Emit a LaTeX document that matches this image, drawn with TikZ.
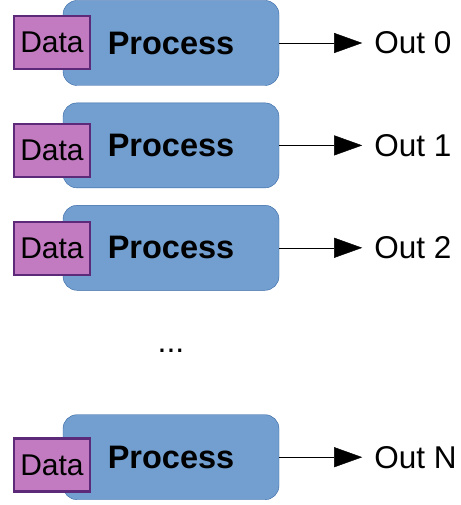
\documentclass[tikz,border=0pt]{standalone}
\usepackage{fontspec}
\setmainfont{Liberation Sans}
\usetikzlibrary{positioning}
\usetikzlibrary{arrows.meta}
\definecolor{procfill}{HTML}{729FCF}
\definecolor{procline}{HTML}{3465A4}
\definecolor{datafill}{HTML}{C27BC0}
\definecolor{dataline}{HTML}{5C2A78}
\tikzset{
	-{Triangle[length=28pt,width=20pt]},
	line width=2.2pt,
	node distance = 17pt and 95pt,
	process/.style = {rectangle, rounded corners=14pt, draw=procline, fill=procfill,
		minimum width=216pt, minimum height=85pt,
		font=\fontsize{32.5}{34}\selectfont\bfseries},
	data/.style = {rectangle, draw=dataline, fill=datafill, line width=2.5pt,
		minimum width=76pt, minimum height=53pt, inner sep=0pt,
		font=\fontsize{30}{31}\selectfont},
	outlbl/.style = {anchor=west, inner sep=0pt, font=\fontsize{31.5}{33}\selectfont},
}

\begin{document}
\begin{tikzpicture}[x=1pt,y=-1pt]
	\useasboundingbox (0,0) rectangle (460,505);
	\node (proc0) [process] at (171,43) {Process};
	\node (proc1) [process, below = of proc0] {Process};
	\node (proc2) [process, below = of proc1] {Process};
	\node (procn) [process, below = 124pt of proc2] {Process};
	\node (data0) [data] at (52,42.5) {Data};
	\node (data1) [data] at (52,150.5) {Data};
	\node (data2) [data] at (52,248.5) {Data};
	\node (datan) [data] at (52,465) {Data};
	\node (out0) [outlbl, right = of proc0] {Out 0};
	\node (out1) [outlbl, right = of proc1] {Out 1};
	\node (out2) [outlbl, right = of proc2] {Out 2};
	\node (outn) [outlbl, right = of procn] {Out N};
	\node (dots) [font=\fontsize{32}{33}\selectfont] at (171,351) {...};
	     \path (proc0.east) edge [shorten >=12pt] (out0.west);
	     \path (proc1.east) edge [shorten >=12pt] (out1.west);
	     \path (proc2.east) edge [shorten >=12pt] (out2.west);
	     \path (procn.east) edge [shorten >=12pt] (outn.west);
\end{tikzpicture}
\end{document}
